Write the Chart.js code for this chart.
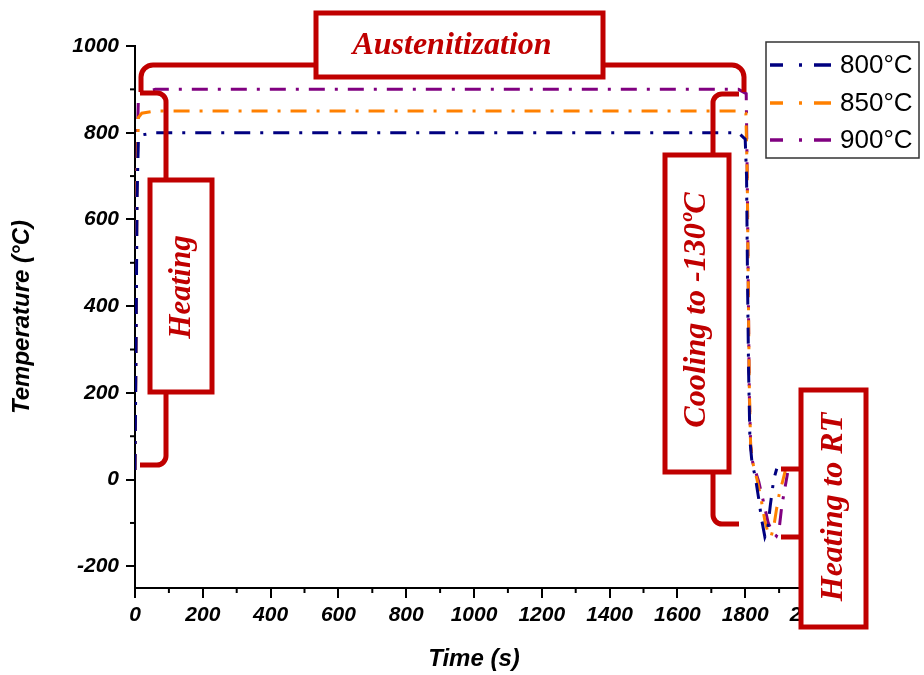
<!DOCTYPE html>
<html><head><meta charset="utf-8">
<script src="https://cdn.jsdelivr.net/npm/chart.js@4.4.1/dist/chart.umd.min.js"></script>
<style>html,body{margin:0;padding:0;background:#fff;overflow:hidden}</style>
</head><body>
<canvas id="c" width="924" height="675"></canvas>
<script>
// ---- data ----
const time800 = [0, 3, 6, 10, 20, 60, 1780, 1800, 1804, 1807, 1810, 1814, 1820, 1830, 1840, 1848, 1858, 1866, 1874, 1884, 1893];
const temp800 = [22, 300, 650, 785, 795, 800, 800, 785, 700, 450, 250, 90, 40, 5, -45, -90, -132, -115, -60, 0, 25];
const time850 = [0, 3, 6, 10, 20, 60, 1790, 1802, 1806, 1809, 1812, 1816, 1822, 1835, 1848, 1858, 1868, 1876, 1884, 1892, 1900, 1910, 1918];
const temp850 = [22, 320, 700, 835, 845, 850, 850, 845, 700, 450, 220, 80, 40, 0, -50, -95, -125, -132, -110, -70, -35, -5, 20];
const time900 = [0, 3, 6, 10, 20, 60, 1780, 1803, 1806, 1809, 1812, 1816, 1822, 1840, 1855, 1868, 1880, 1892, 1900, 1908, 1916, 1925];
const temp900 = [22, 350, 750, 880, 893, 900, 900, 890, 700, 450, 200, 80, 40, -5, -55, -100, -120, -130, -115, -60, -25, 15];
const seriesLabels = ['800°C', '850°C', '900°C'];
const xTickLabels = [0, 200, 400, 600, 800, 1000, 1200, 1400, 1600, 1800, 2000];
const yTickLabels = [-200, 0, 200, 400, 600, 800, 1000];
const stageLabels = ['Austenitization', 'Heating', 'Cooling to -130ºC', 'Heating to RT'];

const colors = ['#000080', '#ff8000', '#800080'];
const RED = '#c00000';
const zip = (t, v) => t.map((x, i) => ({x, y: v[i]}));
const DASH = [16, 10, 3, 10];

function mkSet(i, t, v) {
  return {label: seriesLabels[i], data: zip(t, v), borderColor: colors[i], backgroundColor: colors[i],
    borderWidth: 3, borderDash: DASH, pointRadius: 0, tension: 0, fill: false};
}

const minorTicks = {
  id: 'minorTicks',
  afterDraw(chart) {
    const ctx = chart.ctx, xs = chart.scales.x, ys = chart.scales.y, a = chart.chartArea;
    ctx.save(); ctx.strokeStyle = '#000'; ctx.lineWidth = 2;
    for (let v = 100; v <= 2000; v += 200) {
      const p = xs.getPixelForValue(v);
      ctx.beginPath(); ctx.moveTo(p, a.bottom); ctx.lineTo(p, a.bottom + 5); ctx.stroke();
    }
    for (let v = -100; v <= 1000; v += 200) {
      const p = ys.getPixelForValue(v);
      ctx.beginPath(); ctx.moveTo(a.left, p); ctx.lineTo(a.left - 5, p); ctx.stroke();
    }
    ctx.restore();
  }
};

function bracket(ctx, pts, r) {
  ctx.beginPath(); ctx.moveTo(pts[0][0], pts[0][1]);
  for (let i = 1; i < pts.length - 1; i++) ctx.arcTo(pts[i][0], pts[i][1], pts[i+1][0], pts[i+1][1], r);
  ctx.lineTo(pts[pts.length-1][0], pts[pts.length-1][1]); ctx.stroke();
}
function box(ctx, x1, y1, x2, y2) {
  ctx.fillStyle = '#fff'; ctx.fillRect(x1, y1, x2 - x1, y2 - y1);
  ctx.strokeRect(x1, y1, x2 - x1, y2 - y1);
}
function vtext(ctx, s, cx, cy, size) {
  ctx.save(); ctx.translate(cx, cy); ctx.rotate(-Math.PI / 2);
  ctx.font = 'italic bold ' + size + 'px "Liberation Serif", "Times New Roman", serif';
  ctx.fillStyle = RED; ctx.textAlign = 'center'; ctx.textBaseline = 'middle';
  ctx.fillText(s, 0, 0); ctx.restore();
}

const annotations = {
  id: 'annotations',
  afterDraw(chart) {
    const ctx = chart.ctx;
    ctx.save();
    ctx.strokeStyle = RED; ctx.lineWidth = 5; ctx.lineJoin = 'miter'; ctx.lineCap = 'butt';
    // Austenitization bracket
    bracket(ctx, [[141, 92], [141, 65], [320, 65]], 12);
    bracket(ctx, [[600, 65], [744, 65], [744, 92]], 12);
    box(ctx, 316, 13, 603, 77);
    ctx.font = 'italic bold 32px "Liberation Serif", "Times New Roman", serif';
    ctx.fillStyle = RED; ctx.textAlign = 'center'; ctx.textBaseline = 'middle';
    ctx.fillText(stageLabels[0], 452, 46);
    // Heating
    bracket(ctx, [[140, 93], [166, 93], [166, 182]], 9);
    bracket(ctx, [[166, 390], [166, 465], [140, 465]], 9);
    box(ctx, 150, 180, 212, 392);
    vtext(ctx, stageLabels[1], 182, 287, 31);
    // Cooling
    bracket(ctx, [[739, 94], [713, 94], [713, 156]], 9);
    bracket(ctx, [[713, 470], [713, 524], [739, 524]], 9);
    box(ctx, 665, 155, 729, 472);
    vtext(ctx, stageLabels[2], 697, 310, 32);
    // Heating to RT
    bracket(ctx, [[781, 469], [801, 469]], 0);
    bracket(ctx, [[781, 537], [801, 537]], 0);
    box(ctx, 801, 390, 866, 627);
    vtext(ctx, stageLabels[3], 834, 507, 32);
    // Legend
    ctx.lineWidth = 1.5; ctx.strokeStyle = '#333'; ctx.fillStyle = '#fff';
    ctx.fillRect(766, 42, 153, 116); ctx.strokeRect(766, 42, 153, 116);
    const ys = [65, 103, 140];
    chart.data.datasets.forEach((d, i) => {
      const y = ys[i];
      ctx.strokeStyle = d.borderColor; ctx.lineWidth = 3.5; ctx.setLineDash([13, 16, 3, 12, 20]);
      ctx.beginPath(); ctx.moveTo(770, y); ctx.lineTo(831, y); ctx.stroke(); ctx.setLineDash([]);
      ctx.fillStyle = '#000'; ctx.font = '26px "Liberation Sans", Arial, sans-serif';
      ctx.textAlign = 'left'; ctx.textBaseline = 'middle';
      ctx.fillText(d.label, 840, y + 1);
    });
    ctx.restore();
  }
};

const tickFont = {family: '"Liberation Sans", Arial, sans-serif', size: 21, weight: 'bold', style: 'italic'};
const titleFont = {family: '"Liberation Sans", Arial, sans-serif', size: 24, weight: 'bold', style: 'italic'};

new Chart(document.getElementById('c'), {
  type: 'line',
  data: {datasets: [mkSet(0, time800, temp800), mkSet(1, time850, temp850), mkSet(2, time900, temp900)]},
  options: {
    responsive: false, animation: false, events: [],
    layout: {padding: {left: 0, right: 111, top: 46, bottom: 0}},
    plugins: {legend: {display: false}, tooltip: {enabled: false}},
    scales: {
      x: {type: 'linear', min: 0, max: 2000,
        afterFit: s => { s.height = 87; },
        afterBuildTicks: s => { s.ticks = xTickLabels.map(v => ({value: v})); },
        border: {display: true, color: '#000', width: 2},
        grid: {display: true, drawOnChartArea: false, color: '#000', lineWidth: 2, tickLength: 10},
        ticks: {color: '#000', font: tickFont, padding: 5, maxRotation: 0, autoSkip: false, callback: v => String(v)},
        title: {display: true, text: 'Time (s)', color: '#000', font: titleFont, padding: {top: 0, bottom: 1}}
      },
      y: {type: 'linear', min: -250, max: 1000,
        afterFit: s => { s.width = 135; },
        afterBuildTicks: s => { s.ticks = yTickLabels.map(v => ({value: v})); },
        border: {display: true, color: '#000', width: 2},
        grid: {display: true, drawOnChartArea: false, color: '#000', lineWidth: 2, tickLength: 9},
        ticks: {color: '#000', font: tickFont, padding: 7, autoSkip: false, callback: v => String(v)},
        title: {display: true, text: 'Temperature (°C)', color: '#000', font: titleFont, padding: {top: 8, bottom: 0}}
      }
    }
  },
  plugins: [minorTicks, annotations]
});
</script>
</body></html>
